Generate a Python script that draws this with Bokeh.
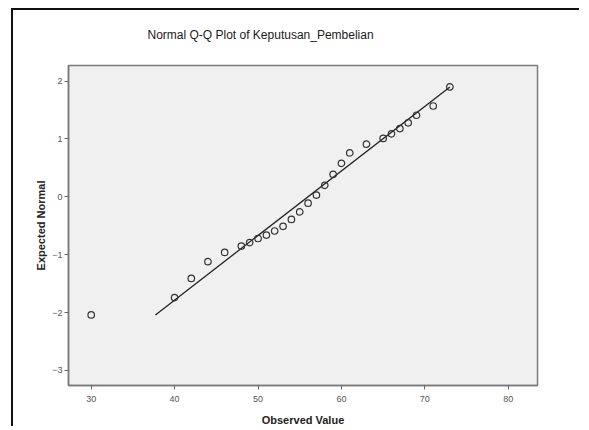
from bokeh.plotting import figure
from bokeh.models import Range1d, FixedTicker, Title
from bokeh.embed import file_html
from bokeh.resources import INLINE

# Data
observed = [30, 40, 42, 44, 46, 48, 49, 50, 51, 52, 53, 54, 55, 56, 57, 58,
            59, 60, 61, 63, 65, 66, 67, 68, 69, 71, 73]
expected = [-2.04, -1.74, -1.41, -1.12, -0.96, -0.85, -0.79, -0.72, -0.66,
            -0.59, -0.51, -0.39, -0.26, -0.11, 0.03, 0.20, 0.39, 0.58, 0.76,
            0.91, 1.01, 1.09, 1.18, 1.28, 1.41, 1.57, 1.90]
line_x = [37.7, 73.0]
line_y = [-2.04, 1.90]
x_ticks = [30, 40, 50, 60, 70, 80]
y_ticks = [-3, -2, -1, 0, 1, 2]
title_text = "Normal Q-Q Plot of Keputusan_Pembelian"

FONT = "Liberation Sans"

p = figure(width=568, height=418, output_backend="svg", toolbar_location=None,
           x_range=Range1d(27.28, 83.5), y_range=Range1d(-3.26, 2.27),
           min_border_left=55, min_border_right=44, min_border_top=55,
           min_border_bottom=43, title=None)
p.styles = {"margin-left": "11px", "margin-top": "8px",
            "border-left": "2px solid #111111",
            "border-top": "2px solid #111111"}

# spacer between plot frame and title, then the title itself
p.add_layout(Title(text="\u00a0", text_font_size="20px", standoff=0,
                   text_color="white"), "above")
p.add_layout(Title(text=title_text, align="left", offset=79,
                   text_font=FONT, text_font_size="12px",
                   text_font_style="normal", text_color="#1a1a1a",
                   standoff=0), "above")

p.background_fill_color = "#f0f0f0"
p.border_fill_color = "white"
p.outline_line_color = "#7a7a7a"
p.outline_line_width = 1.5
p.xgrid.visible = False
p.ygrid.visible = False

for ax, ticks in ((p.xaxis[0], x_ticks), (p.yaxis[0], y_ticks)):
    ax.ticker = FixedTicker(ticks=ticks)
    ax.minor_tick_line_color = None
    ax.major_tick_in = 0
    ax.major_tick_out = 4
    ax.major_tick_line_color = "#666666"
    ax.axis_line_color = "#7a7a7a"
    ax.axis_line_width = 1.5
    ax.major_label_text_font = FONT
    ax.major_label_text_font_size = "9px"
    ax.major_label_text_color = "#555555"
    ax.axis_label_text_font = FONT
    ax.axis_label_text_font_size = "11px"
    ax.axis_label_text_font_style = "bold"
    ax.axis_label_text_color = "#222222"

p.xaxis.axis_label = "Observed Value"
p.yaxis.axis_label = "Expected Normal"
p.xaxis.major_label_standoff = 6
p.xaxis.axis_label_standoff = 9
p.yaxis.major_label_standoff = 2
p.yaxis.axis_label_standoff = 2

p.line(line_x, line_y, line_color="#222222", line_width=1.3)
p.scatter(observed, expected, marker="circle", size=6.5, fill_color=None,
          line_color="#333333", line_width=1.2)

open("out.html", "w").write(file_html(p, INLINE))
